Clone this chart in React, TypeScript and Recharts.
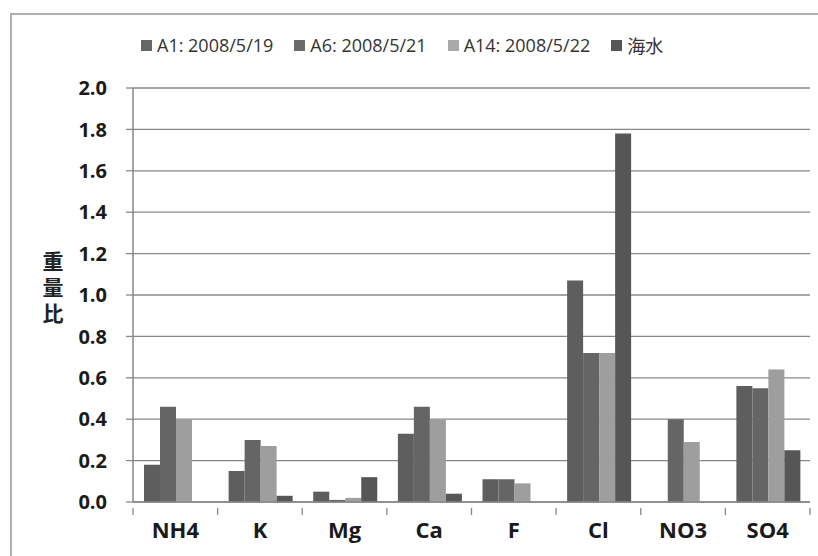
import { BarChart, Bar, XAxis, YAxis, CartesianGrid, Label } from "recharts";

const ions = ["NH4", "K", "Mg", "Ca", "F", "Cl", "NO3", "SO4"];
const a1 = [0.18, 0.15, 0.05, 0.33, 0.11, 1.07, 0, 0.56];
const a6 = [0.46, 0.30, 0.01, 0.46, 0.11, 0.72, 0.40, 0.55];
const a14 = [0.40, 0.27, 0.02, 0.40, 0.09, 0.72, 0.29, 0.64];
const seawater = [0, 0.03, 0.12, 0.04, 0, 1.78, 0, 0.25];
const yTicks = [0, 0.2, 0.4, 0.6, 0.8, 1.0, 1.2, 1.4, 1.6, 1.8, 2.0];

const series = [
  { key: "a1", name: "A1: 2008/5/19", color: "#5e5e5e", icon: "#666666" },
  { key: "a6", name: "A6: 2008/5/21", color: "#656565", icon: "#6a6a6a" },
  { key: "a14", name: "A14: 2008/5/22", color: "#9e9e9e", icon: "#a8a8a8" },
  { key: "sea", name: "海水", color: "#565656", icon: "#555555" },
];

const data = ions.map((ion, i) => ({
  ion,
  a1: a1[i],
  a6: a6[i],
  a14: a14[i],
  sea: seawater[i],
}));

const FONT = "'Open Sans', 'Noto Sans CJK JP', sans-serif";
// plot spans x 133..810, 8 categories
const HALF_BAND = (810 - 133) / ions.length / 2;

function LegendRow() {
  return (
    <div
      style={{
        position: "absolute",
        left: 141,
        top: 32,
        display: "flex",
        gap: 21,
        fontFamily: FONT,
        fontSize: 18,
        color: "#333",
        whiteSpace: "nowrap",
      }}
    >
      {series.map((s) => (
        <div key={s.key} style={{ display: "flex", alignItems: "center" }}>
          <span style={{ width: 11, height: 11, background: s.icon, display: "inline-block", marginRight: 5 }} />
          <span>{s.name}</span>
        </div>
      ))}
    </div>
  );
}

function YTitle() {
  const chars = ["重", "量", "比"];
  return (
    <text x={53} y={262} textAnchor="middle" fontFamily={FONT} fontWeight="bold" fontSize={21} fill="#222">
      {chars.map((c, i) => (
        <tspan key={i} x={53} y={262 + i * 26} dy="0.35em">
          {c}
        </tspan>
      ))}
    </text>
  );
}

function CatTick(props: any) {
  const { x, y, payload, index } = props;
  const axisY = y - 14;
  return (
    <g>
      <line x1={x - HALF_BAND} x2={x - HALF_BAND} y1={axisY} y2={axisY + 7} stroke="#888" strokeWidth={1.3} />
      {index === ions.length - 1 && (
        <line x1={x + HALF_BAND} x2={x + HALF_BAND} y1={axisY} y2={axisY + 7} stroke="#888" strokeWidth={1.3} />
      )}
      <text
        x={x}
        y={y}
        dy="0.71em"
        textAnchor="middle"
        fontFamily={FONT}
        fontWeight="bold"
        fontSize={22}
        fill="#1a1a1a"
      >
        {payload.value}
      </text>
    </g>
  );
}

export default function App() {
  return (
    <div style={{ position: "fixed", left: 0, top: 0, width: 818, height: 556, background: "#fff", overflow: "hidden" }}>
      <div
        style={{
          position: "absolute",
          left: 10,
          top: 13,
          width: 900,
          height: 700,
          borderLeft: "2px solid #b0b0b0",
          borderTop: "2px solid #b0b0b0",
        }}
      />
      <LegendRow />
      <BarChart
        width={818}
        height={556}
        data={data}
        margin={{ top: 88, right: 8, left: 0, bottom: 0 }}
        barCategoryGap="13%"
        barGap={0}
        style={{ position: "absolute", left: 0, top: 0 }}
      >
        <CartesianGrid vertical={false} stroke="#888" strokeWidth={1.3} />
        <XAxis
          dataKey="ion"
          height={54}
          tickLine={false}
          axisLine={{ stroke: "#888", strokeWidth: 1.5 }}
          tickMargin={14}
          interval={0}
          tick={<CatTick />}
        />
        <YAxis
          domain={[0, 2]}
          ticks={yTicks}
          width={133}
          tickSize={7}
          tickMargin={19}
          tickFormatter={(v: number) => v.toFixed(1)}
          axisLine={{ stroke: "#888", strokeWidth: 1.5 }}
          tickLine={{ stroke: "#888", strokeWidth: 1.3 }}
          tick={{ fontFamily: FONT, fontWeight: "bold", fontSize: 20, fill: "#1a1a1a" }}
        >
          <Label content={<YTitle />} />
        </YAxis>
        {series.map((s) => (
          <Bar key={s.key} dataKey={s.key} name={s.name} fill={s.color} isAnimationActive={false} />
        ))}
      </BarChart>
    </div>
  );
}
